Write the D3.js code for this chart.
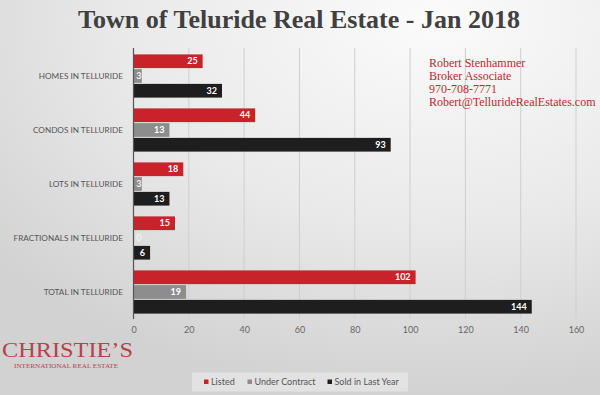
<!DOCTYPE html>
<html>
<head>
<meta charset="utf-8">
<script src="https://cdn.jsdelivr.net/npm/d3@7"></script>
<style>
  body { margin: 0; padding: 0; overflow: hidden; }
  svg { display: block; }
</style>
</head>
<body>
<script>
(function(){

    //chart data
    var categories = ["HOMES IN TELLURIDE", "CONDOS IN TELLURIDE", "LOTS IN TELLURIDE", "FRACTIONALS IN TELLURIDE", "TOTAL IN TELLURIDE"];
    var seriesNames = ["Listed", "Under Contract", "Sold in Last Year"];
    var listed = [25, 44, 18, 15, 102];
    var underContract = [3, 13, 3, 0, 19];
    var soldLastYear = [32, 93, 13, 6, 144];
    var xTicks = [0, 20, 40, 60, 80, 100, 120, 140, 160];
    var contactLines = ["Robert Stenhammer", "Broker Associate", "970-708-7771", "Robert@TellurideRealEstates.com"];

    var colors = ["#c9222a", "#8d8d8d", "#1e1e1e"];
    var allSeries = [listed, underContract, soldLastYear];

    var width = 600,
        height = 395;

    var svg = d3.select("body")
        .append("svg")
        .attr("width", width)
        .attr("height", height);

    //background gradient
    var defs = svg.append("defs");
    var grad = defs.append("radialGradient")
        .attr("id", "bg")
        .attr("cx", "0.72").attr("cy", "0.05")
        .attr("r", "0.95");
    grad.append("stop").attr("offset", "0").attr("stop-color", "#fbfbfb");
    grad.append("stop").attr("offset", "0.55").attr("stop-color", "#e9e9e9");
    grad.append("stop").attr("offset", "1").attr("stop-color", "#d2d2d2");

    svg.append("rect")
        .attr("width", width)
        .attr("height", height)
        .attr("fill", "url(#bg)");

    //title
    svg.append("text")
        .attr("x", 299)
        .attr("y", 28)
        .attr("text-anchor", "middle")
        .style("font-family", "'Liberation Serif', 'Times New Roman', serif")
        .style("font-weight", "bold")
        .style("font-size", "26px")
        .style("fill", "#404040")
        .text("Town of Teluride Real Estate - Jan 2018");

    //scales
    var xScale = d3.scaleLinear()
        .domain([0, 160])
        .range([133.5, 576]);

    var yScale = d3.scaleBand()
        .domain(categories)
        .range([49, 319])
        .paddingInner(0.2)
        .paddingOuter(0.1);

    var subScale = d3.scaleBand()
        .domain(d3.range(seriesNames.length))
        .range([0, yScale.bandwidth()])
        .paddingInner(0.07);

    //gridlines
    svg.append("g")
        .selectAll("line")
        .data(xTicks.slice(1))
        .enter()
        .append("line")
        .attr("x1", function(d){ return xScale(d); })
        .attr("x2", function(d){ return xScale(d); })
        .attr("y1", 48)
        .attr("y2", 319)
        .attr("stroke", "#cfcfcf")
        .attr("stroke-width", 1);

    //contact text block
    var contact = svg.append("text")
        .style("font-family", "'Liberation Serif', 'Times New Roman', serif")
        .style("font-size", "12px")
        .style("fill", "#c0282e");
    contact.selectAll("tspan")
        .data(contactLines)
        .enter()
        .append("tspan")
        .attr("x", 429)
        .attr("y", function(d, i){ return 67 + i * 13; })
        .text(function(d){ return d; });

    //bars
    var groups = svg.selectAll(".group")
        .data(categories)
        .enter()
        .append("g")
        .attr("class", "group")
        .attr("transform", function(d){ return "translate(0," + yScale(d) + ")"; });

    groups.each(function(cat, ci){
        var g = d3.select(this);
        allSeries.forEach(function(series, si){
            var v = series[ci];
            var barW = Math.max(xScale(v) - xScale(0), 0);
            g.append("rect")
                .attr("x", xScale(0))
                .attr("y", subScale(si))
                .attr("width", barW)
                .attr("height", subScale.bandwidth())
                .attr("fill", colors[si]);
            g.append("text")
                .attr("x", barW > 15 ? xScale(v) - 5 : xScale(0) + 8)
                .attr("y", subScale(si) + subScale.bandwidth() / 2)
                .attr("dy", "0.35em")
                .attr("text-anchor", "end")
                .style("font-family", "Lato, 'Open Sans', sans-serif")
                .style("font-weight", "bold")
                .style("font-size", "9px")
                .style("fill", barW > 15 ? "#ffffff" : "#f2f2f2")
                .text(v);
        });
    });

    //category labels
    svg.append("g")
        .selectAll("text")
        .data(categories)
        .enter()
        .append("text")
        .attr("x", 123)
        .attr("y", function(d){ return yScale(d) + yScale.bandwidth() / 2; })
        .attr("dy", "0.35em")
        .attr("text-anchor", "end")
        .style("font-family", "Lato, 'Open Sans', sans-serif")
        .style("font-size", "8.2px")
        .style("fill", "#555555")
        .text(function(d){ return d; });

    //vertical axis line
    svg.append("line")
        .attr("x1", xScale(0)).attr("x2", xScale(0))
        .attr("y1", 48).attr("y2", 319)
        .attr("stroke", "#555555")
        .attr("stroke-width", 1.2);

    //x axis
    var xAxis = d3.axisBottom(xScale)
        .tickValues(xTicks)
        .tickSize(0)
        .tickPadding(8);

    var axis = svg.append("g")
        .attr("transform", "translate(0,319)")
        .call(xAxis);
    axis.select(".domain").remove();
    axis.selectAll("text")
        .style("font-family", "Lato, 'Open Sans', sans-serif")
        .style("font-size", "9px")
        .style("fill", "#666666");

    //christie's logo text
    svg.append("text")
        .attr("x", 2)
        .attr("y", 357)
        .attr("textLength", 131)
        .attr("lengthAdjust", "spacingAndGlyphs")
        .style("font-family", "'Liberation Serif', 'Times New Roman', serif")
        .style("font-size", "21px")
        .style("fill", "#b3444d")
        .text("CHRISTIE\u2019S");
    svg.append("text")
        .attr("x", 14)
        .attr("y", 368)
        .attr("textLength", 104)
        .attr("lengthAdjust", "spacingAndGlyphs")
        .style("font-family", "'Liberation Serif', 'Times New Roman', serif")
        .style("font-size", "6.5px")
        .style("fill", "#b3444d")
        .text("INTERNATIONAL REAL ESTATE");

    //legend
    var legend = svg.append("g");
    legend.append("rect")
        .attr("x", 192)
        .attr("y", 372.5)
        .attr("width", 216)
        .attr("height", 19)
        .attr("fill", "#e6e6e6")
        .attr("opacity", 0.8);

    var legendX = [204, 247.5, 327.5];
    var items = legend.selectAll(".item")
        .data(seriesNames)
        .enter()
        .append("g")
        .attr("class", "item")
        .attr("transform", function(d, i){ return "translate(" + legendX[i] + ",382)"; });
    items.append("rect")
        .attr("x", 0)
        .attr("y", -2.5)
        .attr("width", 4.5)
        .attr("height", 4.5)
        .attr("fill", function(d, i){ return colors[i]; });
    items.append("text")
        .attr("x", 7)
        .attr("y", 0)
        .attr("dy", "0.35em")
        .style("font-family", "Lato, 'Open Sans', sans-serif")
        .style("font-size", "9px")
        .style("fill", "#555555")
        .text(function(d){ return d; });

})();
</script>
</body>
</html>
